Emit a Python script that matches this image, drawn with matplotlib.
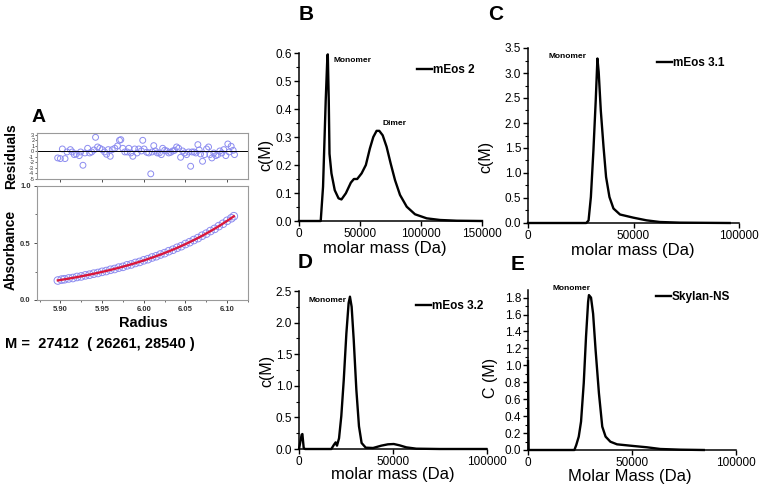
import matplotlib
matplotlib.use("Agg")
import matplotlib.pyplot as plt
from matplotlib.ticker import MultipleLocator, FixedLocator

plt.rcParams['font.family'] = ['Liberation Sans', 'DejaVu Sans']

W, H = 763, 493

# ---------------- Panel A data ----------------
res_radius = [5.8968, 5.9000, 5.9024, 5.9056, 5.9080, 5.9120, 5.9143, 5.9167, 5.9191, 5.9227,
              5.9243, 5.9271, 5.9295, 5.9327, 5.9351, 5.9375, 5.9402, 5.9422, 5.9446, 5.9474,
              5.9502, 5.9530, 5.9554, 5.9574, 5.9598, 5.9622, 5.9653, 5.9685, 5.9709, 5.9725,
              5.9749, 5.9773, 5.9801, 5.9821, 5.9845, 5.9869, 5.9892, 5.9920, 5.9940, 5.9972,
              5.9988, 6.0004, 6.0036, 6.0060, 6.0084, 6.0100, 6.0120, 6.0139, 6.0163, 6.0187,
              6.0211, 6.0227, 6.0251, 6.0275, 6.0299, 6.0323, 6.0347, 6.0371, 6.0394, 6.0418,
              6.0442, 6.0466, 6.0490, 6.0514, 6.0538, 6.0562, 6.0578, 6.0602, 6.0625, 6.0649,
              6.0665, 6.0681, 6.0705, 6.0729, 6.0753, 6.0777, 6.0793, 6.0817, 6.0841, 6.0865,
              6.0888, 6.0912, 6.0936, 6.0960, 6.0984, 6.1008, 6.1024, 6.1048, 6.1072, 6.1088]
residuals = [-1.20, -1.32, 0.42, -1.32, -0.12, 0.30, -0.12, -0.60, -0.48, -0.78,
             -0.12, -2.52, -0.30, 0.54, -0.30, -0.12, 0.24, 2.52, 0.78, 0.54,
             0.30, -0.12, -0.54, 0.30, -0.90, 0.30, 0.54, 0.96, 1.98, 2.10,
             0.54, -0.12, -0.12, 0.54, -0.30, -0.90, 0.42, -0.30, 0.42, 0.06,
             1.98, 0.42, -0.18, -0.30, -4.07, -0.12, 1.02, 0.06, -0.30, -0.30,
             -0.60, 0.54, 0.18, 0.06, -0.30, -0.18, 0.06, 0.18, 0.78, 0.54,
             -1.08, 0.06, -0.30, -0.60, -0.12, -2.70, -0.12, -0.12, -0.30, 1.20,
             0.24, -0.48, -1.80, -0.60, 0.42, 0.78, -0.60, -1.20, -0.30, -0.78,
             -0.60, 0.06, -0.30, 0.30, -0.78, 1.32, -0.12, 0.90, 0.18, -0.60]

abs_radius = [5.897, 5.9015, 5.905, 5.910, 5.915, 5.920, 5.925, 5.930, 5.935, 5.940,
              5.945, 5.950, 5.955, 5.960, 5.965, 5.970, 5.975, 5.980, 5.985, 5.990,
              5.995, 6.000, 6.005, 6.010, 6.015, 6.020, 6.025, 6.030, 6.035, 6.040,
              6.045, 6.050, 6.055, 6.060, 6.065, 6.070, 6.075, 6.080, 6.085, 6.090,
              6.095, 6.100, 6.105, 6.108]
absorbance = [0.171, 0.179, 0.182, 0.189, 0.193, 0.202, 0.207, 0.216, 0.222, 0.231,
              0.237, 0.247, 0.254, 0.265, 0.272, 0.284, 0.291, 0.304, 0.312, 0.325,
              0.334, 0.348, 0.358, 0.373, 0.384, 0.399, 0.411, 0.428, 0.441, 0.458,
              0.472, 0.491, 0.507, 0.526, 0.543, 0.564, 0.582, 0.605, 0.624, 0.648,
              0.669, 0.695, 0.717, 0.735]
fit_radius = [5.897, 5.91, 5.92, 5.93, 5.94, 5.95, 5.96, 5.97, 5.98, 5.99, 6.00,
              6.01, 6.02, 6.03, 6.04, 6.05, 6.06, 6.07, 6.08, 6.09, 6.10, 6.108]
fit_abs = [0.172, 0.1878, 0.2009, 0.2151, 0.2302, 0.2464, 0.2638, 0.2825, 0.3025, 0.3240,
           0.3470, 0.3718, 0.3983, 0.4267, 0.4573, 0.4901, 0.5253, 0.5632, 0.6038, 0.6473,
           0.6942, 0.7342]

# ---------------- Panel B-E data ----------------
mass_B = [0, 17800, 19700, 21900, 23300, 23600, 24400, 25000, 26600, 29300, 32400, 34800,
          38400, 42500, 45000, 47700, 51300, 54800, 58100, 60900, 63600, 65800, 68600,
          71800, 75100, 78700, 82800, 88300, 95100, 104700, 115700, 129400, 150000]
c_B = [0, 0, 0.122, 0.431, 0.592, 0.595, 0.43, 0.24, 0.17, 0.11, 0.081, 0.077,
       0.099, 0.137, 0.150, 0.150, 0.170, 0.200, 0.259, 0.300, 0.322, 0.322, 0.306,
       0.265, 0.206, 0.146, 0.093, 0.051, 0.024, 0.0095, 0.0036, 0.001, 0]

mass_C = [0, 27600, 28700, 29800, 31000, 32100, 32900, 33500, 34500, 35800, 37000,
          38600, 40500, 43600, 49900, 56200, 62500, 72000, 95600]
c_C = [0, 0, 0.05, 0.52, 1.45, 2.45, 3.29, 3.02, 2.25, 1.52, 0.92,
       0.52, 0.29, 0.17, 0.107, 0.053, 0.02, 0.007, 0]

mass_D = [0, 1400, 1800, 2500, 3200, 17200, 18600, 19500, 20200, 21300, 22500, 23800,
          25200, 26400, 27100, 28000, 29100, 30500, 31900, 33300, 35500, 39400, 43800,
          47300, 50400, 53500, 57100, 62400, 74800, 99600]
c_D = [0, 0.226, 0.237, 0.016, 0, 0, 0.068, 0.105, 0.053, 0.17, 0.52, 1.09,
       1.83, 2.31, 2.41, 2.25, 1.73, 0.94, 0.36, 0.095, 0.021, 0.016, 0.053,
       0.074, 0.079, 0.058, 0.026, 0.005, 0, 0]

mass_E = [0, 300, 22300, 23200, 24400, 25500, 26800, 27900, 28900, 29300, 30300, 31300,
          32500, 34100, 35700, 37300, 39600, 42800, 50800, 57200, 63600, 73200, 84500]
c_E = [1.05, 0, 0, 0.059, 0.158, 0.335, 0.79, 1.34, 1.75, 1.83, 1.80, 1.61,
       1.18, 0.67, 0.276, 0.158, 0.098, 0.067, 0.047, 0.032, 0.012, 0.004, 0]

fig = plt.figure(figsize=(W / 100, H / 100), dpi=100)


def rect(x0, y0, x1, y1):
    return [x0 / W, 1 - y1 / H, (x1 - x0) / W, (y1 - y0) / H]


def ftext(x, y, s, **kw):
    fig.text(x / W, 1 - y / H, s, **kw)


grey = '#9a9a9a'
# ---------------- Panel A ----------------
axr = fig.add_axes(rect(37, 133, 248, 179))
axr.scatter(res_radius, residuals, s=18, facecolors='none', edgecolors='#8c8cf0', linewidths=0.7)
axr.axhline(0, color='black', lw=0.7)
axr.set_xlim(5.872, 6.125)
axr.set_ylim(-5.0, 3.3)
axr.set_yticks([3, 2, 1, 0, -1, -2, -3, -4, -5])
axr.set_yticklabels(['3', '2', '1', '0', '-1', '-2', '-3', '-4', '-5'])
axr.set_xticks([5.90, 5.95, 6.00, 6.05, 6.10])
axr.set_xticklabels([])
axr.tick_params(axis='y', labelsize=4, length=1.5, width=0.5, pad=0.5, colors='#333333')
axr.tick_params(axis='x', length=2.5, width=0.6, direction='out', colors='#333333')
for sp in axr.spines.values():
    sp.set_color(grey)
    sp.set_linewidth(0.8)

axa = fig.add_axes(rect(37, 186, 248, 300))
axa.scatter(abs_radius, absorbance, s=30, facecolors='none', edgecolors='#8c8cf0', linewidths=0.7, zorder=2)
axa.plot(fit_radius, fit_abs, color='#d8173c', lw=1.7, zorder=3)
axa.set_xlim(5.872, 6.125)
axa.set_ylim(0, 1.0)
axa.set_xticks([5.90, 5.95, 6.00, 6.05, 6.10])
axa.set_xticklabels(['5.90', '5.95', '6.00', '6.05', '6.10'])
axa.xaxis.set_minor_locator(FixedLocator([5.875, 5.925, 5.975, 6.025, 6.075, 6.125]))
axa.set_yticks([0.0, 0.5, 1.0])
axa.set_yticklabels(['0.0', '0.5', '1.0'])
axa.yaxis.set_minor_locator(FixedLocator([0.25, 0.75]))
axa.tick_params(which='major', labelsize=5.5, length=2.5, width=0.6, pad=2, colors='#333333')
axa.tick_params(which='minor', length=1.5, width=0.5, colors='#333333')
for lab in axa.get_xticklabels() + axa.get_yticklabels():
    lab.set_fontweight('bold')
for sp in axa.spines.values():
    sp.set_color(grey)
    sp.set_linewidth(0.8)

ftext(39, 117, 'A', fontsize=14, fontweight='bold', ha='center', va='center')
ftext(11, 156, 'Residuals', fontsize=10, fontweight='bold', rotation=90, ha='center', va='center')
ftext(11, 250, 'Absorbance', fontsize=10, fontweight='bold', rotation=90, ha='center', va='center')
ftext(143, 323, 'Radius', fontsize=10.5, fontweight='bold', ha='center', va='center')
ftext(5, 344, 'M =  27412  ( 26261, 28540 )', fontsize=10.5, fontweight='bold', ha='left', va='center')


# ---------------- Panels B-E ----------------
def cpanel(box, mass, conc, xmax, xticks, ymax, ystep, yminor, label,
           leg_xy, mono_xy, ylab, ylab_xy, xlab, xlab_xy, letter, letter_xy):
    ax = fig.add_axes(rect(*box))
    ax.plot(mass, conc, color='black', lw=1.7, label=label, solid_joinstyle='round', clip_on=False)
    ax.set_xlim(0, xmax)
    ax.set_ylim(0, ymax)
    ax.set_xticks(xticks)
    ax.set_xticklabels([str(t) for t in xticks])
    nt = int(round(ymax / ystep + 1e-6))
    yt = [round(i * ystep, 3) for i in range(nt + 1)]
    ax.set_yticks(yt)
    ax.set_yticklabels(['%.1f' % v for v in yt])
    ax.yaxis.set_minor_locator(MultipleLocator(yminor))
    ax.spines['top'].set_visible(False)
    ax.spines['right'].set_visible(False)
    for s in ('left', 'bottom'):
        ax.spines[s].set_linewidth(1.1)
    ax.tick_params(which='major', labelsize=8.5, length=3.5, width=1.0, pad=1.5, direction='out')
    ax.tick_params(which='minor', length=2, width=0.8, direction='out')
    ax.legend(loc='center left', bbox_to_anchor=leg_xy, frameon=False, handlelength=1.3,
              handletextpad=0.05, borderpad=0, borderaxespad=0,
              prop={'weight': 'bold', 'size': 8.5})
    ax.text(mono_xy[0], mono_xy[1], 'Monomer', transform=ax.transAxes, fontsize=6,
            fontweight='bold', ha='left', va='center')
    ftext(ylab_xy[0], ylab_xy[1], ylab, fontsize=11.5, rotation=90, ha='center', va='center')
    ftext(xlab_xy[0], xlab_xy[1], xlab, fontsize=12, ha='center', va='center')
    ftext(letter_xy[0], letter_xy[1], letter, fontsize=15, fontweight='bold', ha='center', va='center')
    ax.patch.set_alpha(0)
    return ax


axB = cpanel((299, 53, 482, 221), mass_B, c_B, 150000, [0, 50000, 100000, 150000], 0.6, 0.1, 0.05,
             'mEos 2', (0.645, 0.899), (0.186, 0.958), 'c(M)', (266, 155), 'molar mass (Da)', (385, 249),
             'B', (306, 14))
axB.text(0.459, 0.583, 'Dimer', transform=axB.transAxes, fontsize=6, fontweight='bold',
         ha='left', va='center')

cpanel((528, 48, 739, 223), mass_C, c_C, 100000, [0, 50000, 100000], 3.5, 0.5, 0.25,
       'mEos 3.1', (0.611, 0.914), (0.0995, 0.954), 'c(M)', (486, 157), 'molar mass (Da)', (633, 250),
       'C', (496, 14))

cpanel((299, 291, 487, 449), mass_D, c_D, 100000, [0, 50000, 100000], 2.5, 0.5, 0.25,
       'mEos 3.2', (0.622, 0.905), (0.053, 0.937), 'c(M)', (267, 371), 'molar mass (Da)', (393, 475),
       'D', (305, 262))

cpanel((528, 290, 736, 450), mass_E, c_E, 100000, [0, 50000, 100000], 1.8, 0.2, 0.1,
       'Skylan-NS', (0.615, 0.956), (0.12, 1.012), 'C (M)', (490, 378), 'Molar Mass (Da)', (630, 476),
       'E', (518, 265))
fig.axes[-1].set_ylim(0, 1.89)

fig.savefig('out.png', dpi=100)
